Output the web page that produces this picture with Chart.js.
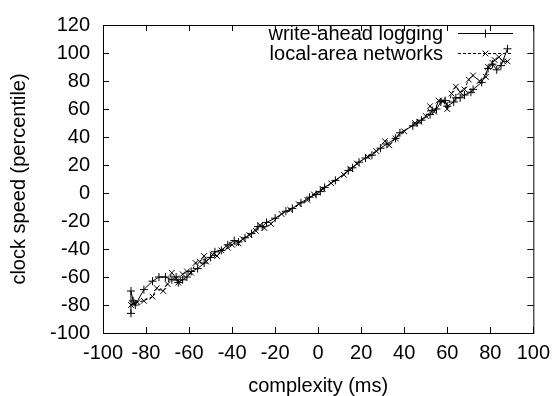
<!DOCTYPE html>
<html>
<head>
<meta charset="utf-8">
<script src="https://cdn.jsdelivr.net/npm/chart.js@4/dist/chart.umd.min.js"></script>
<style>
  html, body { margin: 0; padding: 0; background: #fff; }
  #wrap { width: 558px; height: 396px; }
</style>
</head>
<body>
<div id="wrap"><canvas id="chart" width="558" height="396"></canvas></div>
<script>
// Valores
const walX = [-87, -87, -86, -85, -81, -77, -74, -71, -68, -66, -65, -63, -61, -59, -56, -53, -50, -48, -45, -42, -39, -37, -34, -31, -28, -26, -24, -20, -15, -12, -8, -4, -1, 1, 3, 8, 14, 16, 19, 22, 25, 29, 32, 36, 38, 44, 46, 48, 52, 53, 55, 57, 59, 60, 63, 64, 66, 68, 71, 72, 76, 79, 81, 83, 85, 88];
const walY = [-86, -70, -77, -80, -69, -63, -60, -60, -62, -60, -64, -62, -60, -56, -54, -50, -46, -42, -41, -37, -34, -35, -32, -29, -24, -24, -21, -18, -13, -11, -7, -3, -1, 1, 4, 9, 16, 18, 22, 25, 27, 32, 35, 39, 43, 48, 50, 52, 56, 59, 60, 65, 66, 62, 65, 68, 68, 70, 72, 74, 79, 89, 92, 88, 91, 103];

const lanX = [-87, -86, -84, -81, -77, -75, -72, -70, -68, -66, -65, -63, -61, -59, -57, -55, -53, -52, -49, -47, -45, -42, -40, -37, -35, -32, -29, -27, -25, -22, -17, -13, -9, -5, -2, 2, 6, 12, 15, 18, 23, 27, 31, 33, 36, 40, 45, 47, 50, 52, 54, 56, 58, 60, 62, 64, 66, 68, 70, 72, 75, 78, 79, 81, 82, 84, 86, 88];
const lanY = [-80, -79, -78, -77, -74, -68, -70, -65, -57, -61, -64, -58, -56, -57, -50, -49, -45, -49, -44, -45, -41, -39, -37, -36, -33, -30, -27, -23, -25, -22, -15, -12, -8, -5, -1, 3, 7, 13, 17, 21, 26, 30, 37, 34, 39, 44, 50, 51, 55, 62, 58, 66, 66, 60, 71, 76, 72, 74, 81, 84, 80, 83, 90, 93, 95, 97, 94, 94];

const seriesNames = ['write-ahead logging', 'local-area networks'];
const xTicks = [-100, -80, -60, -40, -20, 0, 20, 40, 60, 80, 100];
const yTicks = [-100, -80, -60, -40, -20, 0, 20, 40, 60, 80, 100, 120];

const FONT = { family: '"Liberation Sans", Arial, sans-serif', size: 20 };

const toPoints = (xs, ys) => xs.map((x, i) => ({ x: x, y: ys[i] }));

// moldura e marcas dos eixos no estilo gnuplot (para dentro)
const frame = {
    id: 'frame',
    afterDraw(chart) {
        const { ctx, chartArea: a, scales } = chart;
        ctx.save();
        ctx.strokeStyle = '#000';
        ctx.lineWidth = 1;
        ctx.strokeRect(a.left + 0.5, a.top + 0.5, a.right - a.left, a.bottom - a.top);
        ctx.beginPath();
        xTicks.forEach(v => {
            const px = Math.round(scales.x.getPixelForValue(v)) + 0.5;
            ctx.moveTo(px, a.bottom); ctx.lineTo(px, a.bottom - 6);
            ctx.moveTo(px, a.top); ctx.lineTo(px, a.top + 6);
        });
        yTicks.forEach(v => {
            const py = Math.round(scales.y.getPixelForValue(v)) + 0.5;
            ctx.moveTo(a.left, py); ctx.lineTo(a.left + 6, py);
            ctx.moveTo(a.right, py); ctx.lineTo(a.right - 6, py);
        });
        ctx.stroke();

        // legenda: texto alinhado à direita, amostra da linha à direita
        ctx.font = FONT.size + 'px ' + FONT.family;
        ctx.fillStyle = '#000';
        ctx.textAlign = 'right';
        ctx.textBaseline = 'middle';
        chart.data.datasets.forEach((ds, i) => {
            const y = 33 + i * 20;
            ctx.fillText(ds.label, 443, y + 1);
            ctx.beginPath();
            ctx.setLineDash(ds.borderDash || []);
            ctx.moveTo(458, y + 0.5); ctx.lineTo(513, y + 0.5);
            ctx.stroke();
            ctx.setLineDash([]);
            Chart.helpers.drawPoint(ctx, { pointStyle: ds.pointStyle, radius: 4, borderWidth: 1 }, 485.5, y + 0.5);
        });
        ctx.restore();
    }
};

new Chart(document.getElementById('chart').getContext('2d'), {
    type: 'scatter',
    data: {
        datasets: [{
            label: seriesNames[0],
            data: toPoints(walX, walY),
            showLine: true,
            borderColor: '#000',
            backgroundColor: '#000',
            borderWidth: 1,
            pointStyle: 'cross',
            pointRadius: 4,
            pointBorderWidth: 1,
            tension: 0
        }, {
            label: seriesNames[1],
            data: toPoints(lanX, lanY),
            showLine: true,
            borderColor: '#000',
            backgroundColor: '#000',
            borderWidth: 1,
            borderDash: [3, 2],
            pointStyle: 'crossRot',
            pointRadius: 4,
            pointBorderWidth: 1,
            tension: 0
        }]
    },
    options: {
        responsive: false,
        animation: false,
        layout: { padding: { top: 17, right: 20, left: 0, bottom: 0 } },
        scales: {
            x: {
                type: 'linear',
                min: -100, max: 100,
                afterFit: s => { s.height = 63; },
                afterBuildTicks: s => { s.ticks = xTicks.map(v => ({ value: v })); },
                grid: { display: false, drawTicks: false },
                border: { display: false },
                ticks: { color: '#000', font: FONT, padding: 8, maxRotation: 0, autoSkip: false },
                title: { display: true, text: 'complexity (ms)', color: '#000', font: FONT, padding: { top: 0, bottom: -2 } }
            },
            y: {
                type: 'linear',
                min: -100, max: 120,
                afterFit: s => { s.width = 103; },
                afterBuildTicks: s => { s.ticks = yTicks.map(v => ({ value: v })); },
                grid: { display: false, drawTicks: false },
                border: { display: false },
                ticks: { color: '#000', font: FONT, padding: 13, autoSkip: false },
                title: { display: true, text: 'clock speed (percentile)', color: '#000', font: FONT, padding: { top: 7, bottom: 0 } }
            }
        },
        plugins: {
            legend: { display: false },
            tooltip: { enabled: false }
        }
    },
    plugins: [frame]
});
</script>
</body>
</html>
